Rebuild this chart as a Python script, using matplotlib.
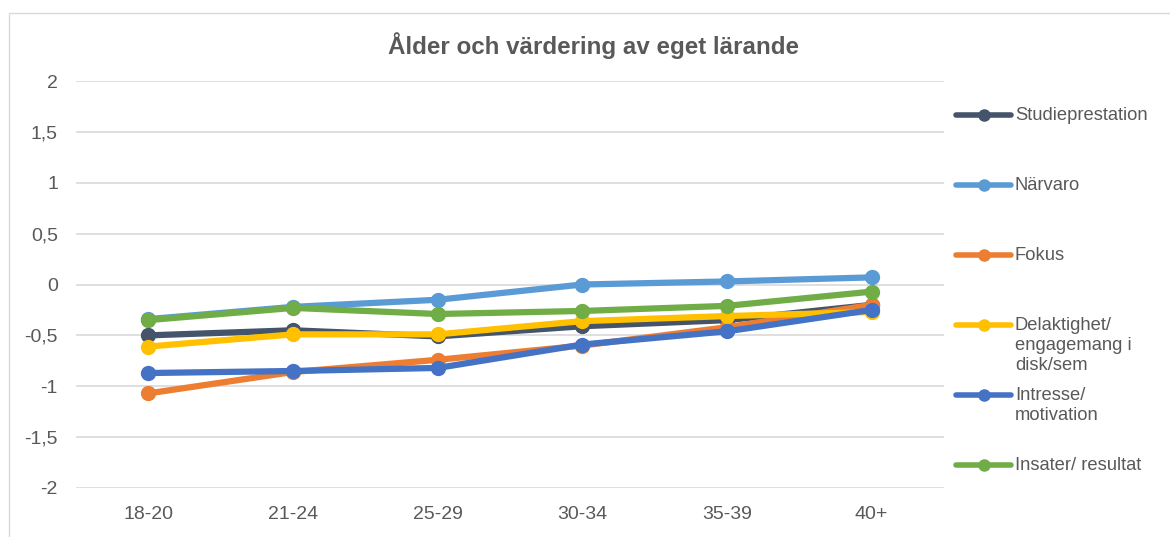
import matplotlib
matplotlib.use("Agg")
import matplotlib.pyplot as plt
from matplotlib.lines import Line2D
from matplotlib.patches import Rectangle

plt.rcParams['font.family'] = ['Liberation Sans', 'DejaVu Sans']

age_groups = ['18-20', '21-24', '25-29', '30-34', '35-39', '40+']

studieprestation = [-0.50, -0.45, -0.51, -0.41, -0.35, -0.20]
narvaro = [-0.34, -0.22, -0.15, 0.00, 0.03, 0.07]
fokus = [-1.07, -0.86, -0.74, -0.60, -0.42, -0.20]
delaktighet = [-0.61, -0.49, -0.49, -0.36, -0.31, -0.27]
intresse = [-0.87, -0.85, -0.82, -0.59, -0.46, -0.25]
insater = [-0.35, -0.23, -0.29, -0.26, -0.21, -0.07]

series_names = ['Studieprestation', 'Närvaro', 'Fokus',
                'Delaktighet/\nengagemang i\ndisk/sem', 'Intresse/\nmotivation',
                'Insater/ resultat']
series_values = [studieprestation, narvaro, fokus, delaktighet, intresse, insater]
colors = ['#44546A', '#5B9BD5', '#ED7D31', '#FFC000', '#4472C4', '#70AD47']

yticks = [2, 1.5, 1, 0.5, 0, -0.5, -1, -1.5, -2]
ytick_labels = ['2', '1,5', '1', '0,5', '0', '-0,5', '-1', '-1,5', '-2']

text_color = '#595959'

fig = plt.figure(figsize=(11.7, 5.37), dpi=100)
ax = fig.add_axes([76 / 1170, 1 - 488 / 537, (944 - 76) / 1170, (488 - 81) / 537])

x = list(range(len(age_groups)))
for name, vals, c in zip(series_names, series_values, colors):
    ax.plot(x, vals, color=c, lw=4.5, marker='o', markersize=10,
            solid_capstyle='round', zorder=3)

ax.set_xlim(-0.5, len(age_groups) - 0.5)
ax.set_ylim(-2, 2)
ax.set_yticks(yticks)
ax.set_yticklabels(ytick_labels)
ax.set_xticks(x)
ax.set_xticklabels(age_groups)
ax.tick_params(length=0, labelsize=14, labelcolor=text_color)
ax.tick_params(axis='y', pad=13)
ax.tick_params(axis='x', pad=13)
ax.grid(axis='y', color='#D9D9D9', lw=1.2)
ax.set_axisbelow(True)
for s in ax.spines.values():
    s.set_visible(False)

fig.text(594 / 1170, 1 - 46 / 537, 'Ålder och värdering av eget lärande',
         ha='center', va='center', fontsize=17.4, fontweight='bold', color=text_color)

# outer chart border
fig.add_artist(Rectangle((8.5 / 1170, -0.1), 1.2, 1 - 13 / 537 + 0.1,
                         transform=fig.transFigure, fill=False,
                         edgecolor='#D9D9D9', lw=1, clip_on=False))

# legend on the right, one entry every 70 px
for i, (name, c) in enumerate(zip(series_names, colors)):
    y = 1 - (115 + 70 * i) / 537
    fig.add_artist(Line2D([956 / 1170, 1011 / 1170], [y, y], transform=fig.transFigure,
                          color=c, lw=4, solid_capstyle='round'))
    fig.add_artist(Line2D([983.5 / 1170], [y], transform=fig.transFigure,
                          color=c, marker='o', markersize=8))
    fig.text(1015 / 1170, y + 8 / 537, name, ha='left', va='top', fontsize=13.2,
             color=text_color, linespacing=1.25)

fig.savefig('out.png', dpi=100)
